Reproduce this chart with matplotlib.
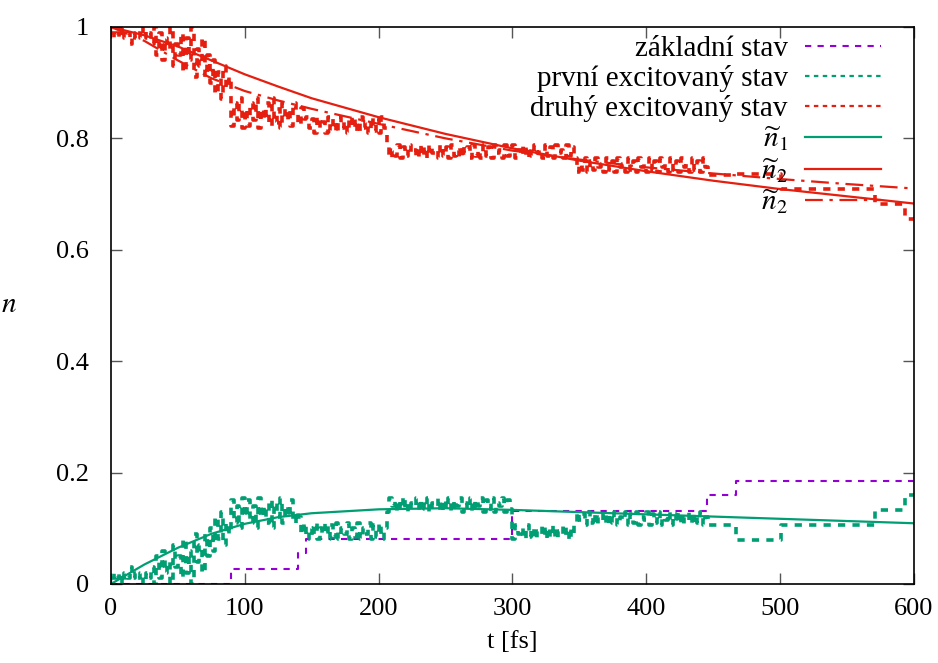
import matplotlib.pyplot as plt
import numpy as np

plt.rcParams['font.family'] = ['Liberation Serif', 'DejaVu Serif']
plt.rcParams['mathtext.fontset'] = 'stix'

PURPLE = '#9400d3'
GREEN = '#009e73'
RED = '#e51e10'

# ground state population (steps)
t_n0 = [0, 90, 140, 146, 300, 445, 467, 600]
n0 = [0.0, 0.027, 0.056, 0.081, 0.131, 0.160, 0.185, 0.185]

# first excited state population, sampled every 2 fs while it flips fast
n1_flip = [
    # 0-28
    0.01, 0.02, 0.01, 0.02, 0.0, 0.02, 0.01, 0.03, 0.01, 0.02, 0.01, 0.02, 0.0, 0.02, 0.01,
    # 30-74
    0.03, 0.0, 0.05, 0.01, 0.06, 0.02, 0.04, 0.0, 0.07, 0.03, 0.05, 0.01, 0.08, 0.02, 0.06,
    0.0, 0.09, 0.04, 0.07, 0.02, 0.09, 0.05, 0.1,
    # 76-88
    0.06, 0.12, 0.08, 0.13, 0.07, 0.11, 0.09,
    # 90-138
    0.15, 0.11, 0.14, 0.10, 0.155, 0.12, 0.15, 0.11, 0.14, 0.10, 0.155, 0.12, 0.14, 0.11,
    0.15, 0.10, 0.145, 0.12, 0.155, 0.11, 0.14, 0.12, 0.15, 0.11, 0.13,
    # 140-204
    0.12, 0.09, 0.11, 0.08, 0.10, 0.085, 0.11, 0.08, 0.10, 0.09, 0.11, 0.08, 0.105, 0.085,
    0.11, 0.08, 0.10, 0.09, 0.11, 0.08, 0.10, 0.085, 0.11, 0.08, 0.10, 0.09, 0.11, 0.08,
    0.105, 0.085, 0.11, 0.08, 0.10,
    # 206-298
    0.13, 0.155, 0.14, 0.15, 0.13, 0.155, 0.135, 0.15, 0.13, 0.145, 0.14, 0.155, 0.13,
    0.15, 0.135, 0.155, 0.13, 0.145, 0.14, 0.155, 0.13, 0.15, 0.135, 0.155, 0.13, 0.15,
    0.14, 0.155, 0.13, 0.145, 0.135, 0.155, 0.13, 0.15, 0.14, 0.155, 0.13, 0.15, 0.135,
    0.155, 0.13, 0.145, 0.14, 0.155, 0.13, 0.15, 0.135,
    # 300-344
    0.08, 0.105, 0.09, 0.10, 0.08, 0.105, 0.085, 0.10, 0.08, 0.095, 0.09, 0.105, 0.08,
    0.10, 0.085, 0.105, 0.08, 0.095, 0.09, 0.105, 0.08, 0.10, 0.085,
    # 346-444
    0.105, 0.13, 0.115, 0.125, 0.105, 0.13, 0.11, 0.125, 0.105, 0.12, 0.115, 0.13, 0.105,
    0.125, 0.11, 0.13, 0.105, 0.12, 0.115, 0.13, 0.105, 0.125, 0.11, 0.13, 0.105, 0.12,
    0.115, 0.13, 0.105, 0.125, 0.11, 0.13, 0.105, 0.12, 0.115, 0.13, 0.105, 0.125, 0.11,
    0.13, 0.105, 0.12, 0.115, 0.13, 0.105, 0.125, 0.11, 0.13, 0.105, 0.12,
]
t_n1_tail = [446, 467, 501, 571, 593, 600]
n1_tail = [0.106, 0.079, 0.106, 0.133, 0.160, 0.160]

# fitted curves
t_fit = [0, 25, 50, 75, 100, 125, 150, 200, 250, 300, 350, 400, 450, 500, 550, 600]
fit_n1 = [0.0, 0.035, 0.065, 0.09, 0.108, 0.12, 0.127, 0.134, 0.136, 0.133, 0.129,
          0.125, 0.121, 0.117, 0.113, 0.109]
fit_n2 = [1.0, 0.985, 0.965, 0.94, 0.915, 0.893, 0.872, 0.838, 0.808, 0.782, 0.76,
          0.741, 0.724, 0.709, 0.696, 0.683]
fit_n2b = [1.0, 0.975, 0.94, 0.908, 0.885, 0.868, 0.853, 0.826, 0.80, 0.778, 0.762,
           0.748, 0.737, 0.727, 0.718, 0.71]

t_n1 = np.concatenate([np.arange(len(n1_flip)) * 2.0, t_n1_tail])
n1 = np.array(n1_flip + n1_tail)
# second excited state: what remains
idx = np.searchsorted(t_n0, t_n1, side='right') - 1
n2 = 1.0 - n1 - np.array(n0)[idx]

fig = plt.figure(figsize=(9.38, 6.63), dpi=100)
ax = fig.add_axes([0.1183, 0.1192, 0.8561, 0.8401])

dot = (0, (2, 2))
ax.plot(t_n0, n0, color=PURPLE, lw=1.5, ls=(0, (3, 3)), drawstyle='steps-post',
        label='základní stav')
ax.plot(t_n1, n1, color=GREEN, lw=2.6, ls=dot, drawstyle='steps-post',
        label='první excitovaný stav')
ax.plot(t_n1, n2, color=RED, lw=2.6, ls=dot, drawstyle='steps-post',
        label='druhý excitovaný stav')
ax.plot(t_fit, fit_n1, color=GREEN, lw=1.6, label=r'$\widetilde{n}_1$')
ax.plot(t_fit, fit_n2, color=RED, lw=1.6, label=r'$\widetilde{n}_2$')
ax.plot(t_fit, fit_n2b, color=RED, lw=1.6, ls=(0, (8, 3, 1.5, 3)), label=r'$\widetilde{n}_2$')

ax.set_xlim(0, 600)
ax.set_ylim(0, 1)
ax.set_xticks([0, 100, 200, 300, 400, 500, 600])
ax.set_yticks([0, 0.2, 0.4, 0.6, 0.8, 1])
ax.set_yticklabels(['0', '0.2', '0.4', '0.6', '0.8', '1'])
ax.tick_params(direction='in', length=8, width=1, labelsize=19, top=True, right=True,
               color='#555555')
ax.tick_params(axis='y', pad=16)
ax.tick_params(axis='x', pad=10)
for s in ax.spines.values():
    s.set_linewidth(1.2)

ax.set_xlabel('t [fs]', fontsize=19, labelpad=8)
ax.set_ylabel(r'$n$', fontsize=21, rotation=0, labelpad=34, va='center')

leg = ax.legend(loc='upper right', bbox_to_anchor=(0.97, 1.0), frameon=False,
                fontsize=21, markerfirst=False, handlelength=2.6, labelspacing=0.1,
                borderaxespad=0.1, handletextpad=0.6, borderpad=0.2)
for line in leg.get_lines()[1:3]:
    line.set_linewidth(1.6)

fig.savefig('out.png', dpi=100)
